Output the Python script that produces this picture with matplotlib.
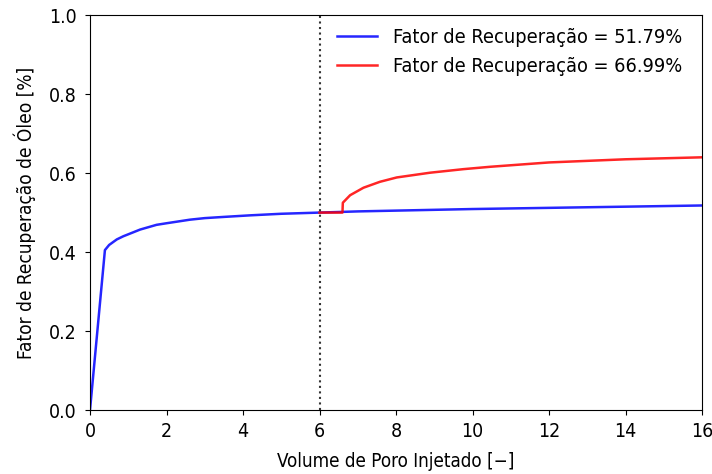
import matplotlib
matplotlib.use('Agg')
import matplotlib.pyplot as plt

plt.rcParams['font.family'] = 'DejaVu Sans'
plt.rcParams['font.stretch'] = 'condensed'
plt.rcParams['mathtext.fontset'] = 'dejavusans'

# blue curve: continuous injection
pvi_base = [0, 0.39, 0.5, 0.7, 0.87, 1.0, 1.31, 1.74, 2.0, 2.61, 3.0, 3.49,
            4.18, 5.0, 6.0, 7.0, 8.0, 10.0, 12.0, 14.0, 16.0]
fr_base = [0, 0.405, 0.418, 0.432, 0.440, 0.445, 0.457, 0.469, 0.473, 0.482,
           0.486, 0.489, 0.493, 0.497, 0.500, 0.503, 0.505, 0.509, 0.512,
           0.515, 0.518]

# red curve: after switch at PVI = 6
pvi_new = [6.0, 6.6, 6.61, 6.8, 7.15, 7.58, 8.02, 8.89, 9.76, 10.46, 12.0,
           14.0, 16.0]
fr_new = [0.500, 0.500, 0.525, 0.544, 0.563, 0.578, 0.589, 0.601, 0.610,
          0.616, 0.627, 0.635, 0.640]

labels = ['Fator de Recuperação = 51.79%', 'Fator de Recuperação = 66.99%']
switch_pvi = 6

fig, ax = plt.subplots(figsize=(7.12, 4.74), dpi=100)
fig.subplots_adjust(left=0.1264, right=0.986, top=0.968, bottom=0.135)

ax.plot(pvi_base, fr_base, color='blue', lw=1.8, alpha=0.85, label=labels[0])
ax.plot(pvi_new, fr_new, color='red', lw=1.8, alpha=0.85, label=labels[1])
ax.axvline(switch_pvi, color='k', ls=':', lw=1.5, alpha=0.8)

ax.set_xlim(0, 16)
ax.set_ylim(0, 1)
ax.set_xlabel('Volume de Poro Injetado [−]', fontsize=13.5, labelpad=8)
ax.set_ylabel('Fator de Recuperação de Óleo [%]', fontsize=13.7, labelpad=9)
ax.tick_params(labelsize=14)
ax.tick_params(axis='x', pad=5)
ax.tick_params(axis='y', pad=6)
ax.legend(frameon=False, fontsize=14.3, loc='upper right',
          bbox_to_anchor=(0.980, 0.988), borderaxespad=0)

fig.savefig('out.png', dpi=100)
